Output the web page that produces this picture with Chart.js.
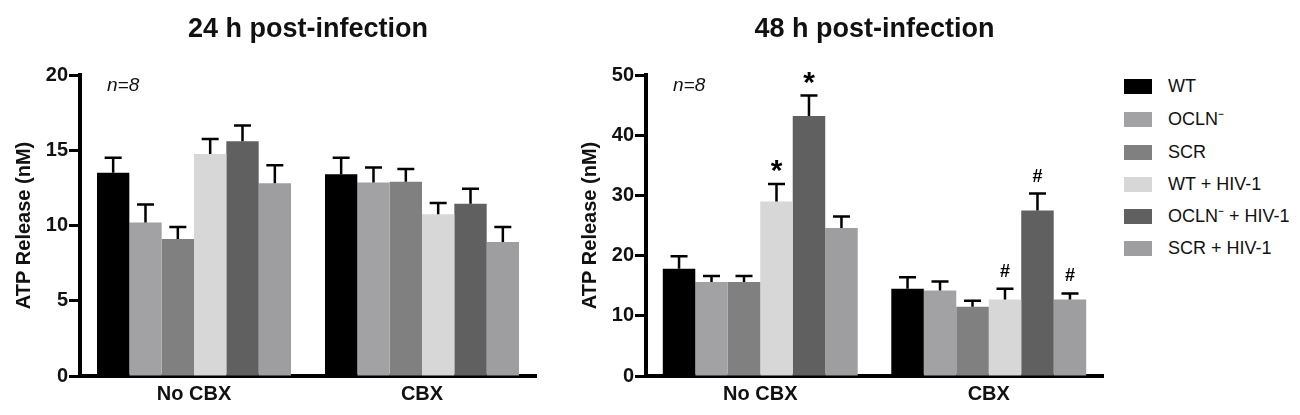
<!DOCTYPE html>
<html>
<head>
<meta charset="utf-8">
<script src="https://cdn.jsdelivr.net/npm/chart.js@4.4.1/dist/chart.umd.min.js"></script>
<style>
  body { margin: 0; background: #fff; width: 1300px; height: 415px; overflow: hidden; position: relative; font-family: "Liberation Sans", Arial, sans-serif; }
  canvas { position: absolute; top: 0; }
  #legend { position: absolute; left: 1124px; top: 0; }
  .row { position: absolute; left: 0; height: 20px; white-space: nowrap; }
  .box { position: absolute; left: 0; top: 2px; width: 28px; height: 15px; }
  .lbl { position: absolute; left: 44px; top: -2px; font-size: 18px; color: #111; line-height: 22px; }
</style>
</head>
<body>
<canvas id="c24" width="560" height="415" style="left:0"></canvas>
<canvas id="c48" width="560" height="415" style="left:560px"></canvas>
<div id="legend"></div>
<script>
// groups along the x axis
const categories = ['No CBX', 'CBX'];
const seriesNames = ['WT', 'OCLN\u207B', 'SCR', 'WT + HIV-1', 'OCLN\u207B + HIV-1', 'SCR + HIV-1'];
const seriesColors = ['#000000', '#a2a2a5', '#808080', '#d7d7d7', '#606060', '#9e9ea1'];

// 24 h: mean and SEM, one row per series, [No CBX, CBX]
const mean24 = [[13.5, 13.4], [10.2, 12.85], [9.1, 12.9], [14.75, 10.75], [15.6, 11.45], [12.8, 8.9]];
const err24 = [[1.0, 1.1], [1.2, 1.0], [0.8, 0.85], [1.0, 0.75], [1.05, 1.0], [1.2, 1.0]];

// 48 h
const mean48 = [[17.8, 14.5], [15.6, 14.2], [15.6, 11.5], [29.0, 12.7], [43.2, 27.5], [24.6, 12.7]];
const err48 = [[2.1, 1.9], [1.0, 1.5], [1.0, 1.0], [2.9, 1.8], [3.4, 2.8], [1.9, 1.0]];
const marks48 = [['', ''], ['', ''], ['', ''], ['*', '#'], ['*', '#'], ['', '#']];

const ticks24 = { max: 20, step: 5 };
const ticks48 = { max: 50, step: 10 };

const boldFont = { family: '"Liberation Sans", Arial, sans-serif', weight: 'bold', size: 20 };

// upper error bars + significance marks + n label
const extras = {
  id: 'extras',
  afterDatasetsDraw(chart, args, opts) {
    const ctx = chart.ctx;
    const y = chart.scales.y;
    ctx.save();
    chart.data.datasets.forEach((ds, i) => {
      const meta = chart.getDatasetMeta(i);
      meta.data.forEach((bar, j) => {
        const top = y.getPixelForValue(ds.data[j] + opts.errors[i][j]);
        ctx.strokeStyle = '#000';
        ctx.lineWidth = 2.5;
        ctx.beginPath();
        ctx.moveTo(bar.x, bar.y);
        ctx.lineTo(bar.x, top);
        ctx.moveTo(bar.x - 8.5, top);
        ctx.lineTo(bar.x + 8.5, top);
        ctx.stroke();
        const m = opts.marks ? opts.marks[i][j] : '';
        if (m) {
          ctx.fillStyle = '#000';
          ctx.textAlign = 'center';
          ctx.textBaseline = 'middle';
          if (m === '*') {
            ctx.font = 'bold 30px "Liberation Sans", Arial, sans-serif';
            ctx.fillText(m, bar.x, top - 12);
          } else {
            ctx.font = 'bold 18px "Liberation Sans", Arial, sans-serif';
            ctx.fillText(m, bar.x, top - 17);
          }
        }
      });
    });
    const a = chart.chartArea;
    ctx.fillStyle = '#111';
    ctx.font = 'italic 19px "Liberation Sans", Arial, sans-serif';
    ctx.textAlign = 'left';
    ctx.textBaseline = 'middle';
    ctx.fillText('n=8', a.left + 27, a.top + 11);
    ctx.restore();
  }
};

function makeChart(id, title, means, errors, marks, ticks, yWidth, padRight, catPct) {
  return new Chart(document.getElementById(id), {
    type: 'bar',
    data: {
      labels: categories,
      datasets: seriesNames.map((name, i) => ({
        label: name,
        data: means[i],
        backgroundColor: seriesColors[i],
        borderWidth: 0,
        barPercentage: 1.0,
        categoryPercentage: catPct
      }))
    },
    options: {
      responsive: false,
      animation: false,
      layout: { padding: { left: 0, right: padRight, top: 0, bottom: 0 } },
      plugins: {
        legend: { display: false },
        tooltip: { enabled: false },
        title: {
          display: true,
          fullSize: false,
          text: title,
          color: '#111',
          font: { family: boldFont.family, weight: 'bold', size: 27 },
          padding: { top: 13, bottom: 29.6 }
        },
        extras: { errors: errors, marks: marks }
      },
      scales: {
        x: {
          grid: { display: false, drawTicks: false },
          border: { display: true, color: '#000', width: 4 },
          ticks: { color: '#111', font: boldFont, padding: 6 },
          afterFit: s => { s.height = 39; }
        },
        y: {
          min: 0,
          max: ticks.max,
          grid: { drawOnChartArea: false, drawTicks: true, tickLength: 11, tickWidth: 3, tickColor: '#000', color: '#000' },
          border: { display: true, color: '#000', width: 4 },
          ticks: { stepSize: ticks.step, color: '#111', font: boldFont, padding: 1 },
          title: {
            display: true,
            text: 'ATP Release (nM)',
            color: '#111',
            font: boldFont,
            padding: { top: yWidth - 68, bottom: 0 }
          },
          afterFit: s => { s.width = yWidth; }
        }
      }
    },
    plugins: [extras]
  });
}

makeChart('c24', '24 h post-infection', mean24, err24, null, ticks24, 80, 24, 0.851);
makeChart('c48', '48 h post-infection', mean48, err48, marks48, ticks48, 86, 17, 0.853);

// legend built from the same series arrays
const legend = document.getElementById('legend');
const rowTops = [87, 120, 153, 185, 217, 249];
seriesNames.forEach((name, i) => {
  const row = document.createElement('div');
  row.className = 'row';
  row.style.top = (rowTops[i] - 10) + 'px';
  row.innerHTML = `<span class="box" style="background:${seriesColors[i]}"></span><span class="lbl">${name}</span>`;
  legend.appendChild(row);
});
</script>
</body>
</html>
